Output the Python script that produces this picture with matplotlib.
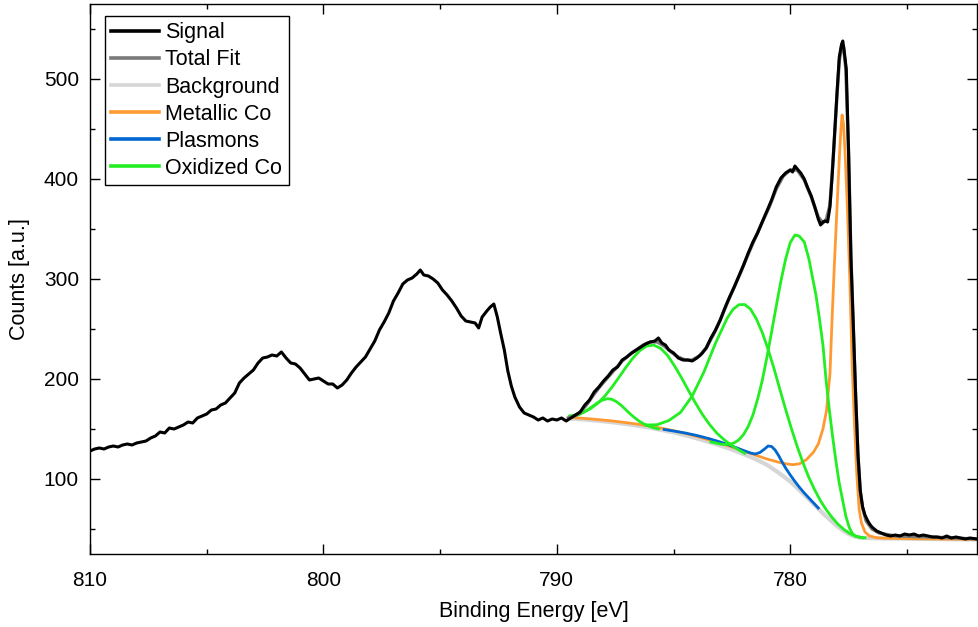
import matplotlib
matplotlib.use("Agg")
import matplotlib.pyplot as plt
from matplotlib.ticker import MultipleLocator
from matplotlib.lines import Line2D

plt.rcParams['font.family'] = ['Liberation Sans', 'DejaVu Sans']

# ---------------- data ----------------
sig_E = [810.00, 809.80, 809.60, 809.40, 809.20, 809.00, 808.80, 808.60, 808.40, 808.20,
         808.00, 807.80, 807.60, 807.40, 807.20, 807.00, 806.80, 806.60, 806.40, 806.20,
         806.00, 805.80, 805.60, 805.40, 805.20, 805.00, 804.80, 804.60, 804.40, 804.20,
         804.00, 803.80, 803.60, 803.40, 803.20, 803.00, 802.80, 802.60, 802.40, 802.20,
         802.00, 801.80, 801.60, 801.40, 801.20, 801.00, 800.80, 800.60, 800.40, 800.20,
         800.00, 799.80, 799.60, 799.40, 799.20, 799.00, 798.80, 798.60, 798.40, 798.20,
         798.00, 797.80, 797.60, 797.40, 797.20, 797.00, 796.80, 796.60, 796.40, 796.20,
         796.00, 795.85, 795.70, 795.50, 795.30, 795.10, 794.90, 794.70, 794.50, 794.30,
         794.10, 793.90, 793.70, 793.50, 793.35, 793.20, 793.00, 792.85, 792.70, 792.55,
         792.40, 792.25, 792.10, 791.95, 791.80, 791.60, 791.40, 791.20, 791.00, 790.80,
         790.60, 790.40, 790.20, 790.00, 789.80, 789.60, 789.40, 789.20, 789.00, 788.80,
         788.60, 788.40, 788.20, 788.00, 787.80, 787.60, 787.40, 787.20, 787.00, 786.80,
         786.60, 786.40, 786.20, 786.00, 785.80, 785.65, 785.50, 785.35, 785.20, 785.00,
         784.80, 784.60, 784.40, 784.20, 784.00, 783.80, 783.60, 783.40, 783.20, 783.00,
         782.80, 782.60, 782.40, 782.20, 782.00, 781.80, 781.60, 781.40, 781.20, 781.00,
         780.80, 780.60, 780.40, 780.20, 780.00, 779.90, 779.80, 779.70, 779.55, 779.40,
         779.25, 779.10, 778.95, 778.80, 778.70, 778.60, 778.50, 778.40, 778.30, 778.20,
         778.10, 778.00, 777.90, 777.80, 777.75, 777.70, 777.60, 777.50, 777.40, 777.30,
         777.20, 777.10, 777.00, 776.90, 776.80, 776.70, 776.60, 776.50, 776.30, 776.10,
         775.90, 775.70, 775.50, 775.30, 775.10, 774.90, 774.70, 774.50, 774.30, 774.10,
         773.90, 773.70, 773.50, 773.30, 773.10, 772.90, 772.70, 772.50, 772.30, 772.00]
sig_C = [128, 130, 131, 130, 132, 133, 132, 134, 135, 134,
         136, 137, 138, 141, 143, 147, 146, 151, 150, 152,
         154, 157, 156, 161, 163, 165, 169, 170, 174, 176,
         181, 186, 196, 201, 205, 209, 216, 221, 222, 224,
         223, 227, 221, 216, 215, 211, 205, 199, 200, 201,
         198, 195, 195, 191, 194, 199, 206, 212, 217, 222,
         230, 238, 249, 257, 266, 278, 286, 295, 299, 301,
         305, 309, 304, 303, 300, 296, 289, 284, 278, 271,
         263, 258, 257, 256, 251, 262, 268, 272, 275, 262,
         245, 229, 208, 193, 182, 172, 166, 164, 162, 159,
         161, 158, 160, 159, 161, 158, 161, 164, 167, 174,
         179, 187, 192, 198, 203, 209, 212, 219, 222, 226,
         229, 232, 235, 237, 238, 241, 236, 234, 229, 226,
         221, 219, 219, 218, 221, 225, 231, 241, 249, 259,
         271, 282, 292, 303, 314, 326, 337, 346, 357, 368,
         379, 392, 401, 406, 409, 407, 413, 410, 406, 400,
         391, 383, 372, 360, 354, 357, 358, 357, 372, 405,
         445, 485, 522, 535, 538, 530, 510, 425, 320, 255,
         185, 125, 88, 72, 64, 59, 55, 52, 48, 46,
         44, 43, 44, 43, 45, 44, 45, 43, 44, 43,
         42, 42, 41, 43, 41, 42, 41, 40, 41, 40]

fit_E = [789.5, 789.2, 789.0, 788.7, 788.4, 788.1, 787.8, 787.5, 787.2, 786.9,
         786.6, 786.3, 786.0, 785.7, 785.4, 785.1, 784.8, 784.5, 784.2, 783.9,
         783.6, 783.3, 783.0, 782.7, 782.4, 782.1, 781.8, 781.5, 781.2, 780.9,
         780.6, 780.3, 780.0, 779.7, 779.4, 779.1, 778.8, 778.6, 778.45, 778.3,
         778.15, 778.0, 777.9, 777.8, 777.72, 777.62, 777.5, 777.4, 777.3, 777.2,
         777.1, 777.0, 776.9, 776.75, 776.5, 776.2, 775.5, 774.0, 772.0]
fit_C = [161, 163.5, 166.5, 175, 185, 194, 202, 210, 218, 224,
         229, 234, 237, 237, 233, 227, 222, 219, 219, 223,
         231, 244, 259, 276, 292, 308, 325, 341, 357, 372,
         390, 403, 409, 409, 399, 382, 362, 356, 360, 374,
         425, 483, 518, 533, 532, 510, 425, 322, 252, 183,
         124, 88, 71, 58, 50, 46, 43, 42, 40]

bg_E = [789.5, 789.0, 788.5, 788.0, 787.5, 787.0, 786.5, 786.0, 785.5, 785.0,
        784.5, 784.0, 783.5, 783.0, 782.5, 782.0, 781.5, 781.0, 780.5, 780.0,
        779.5, 779.0, 778.5, 778.0, 777.75, 777.5, 777.25, 777.0, 776.5, 776.0,
        775.0, 774.0, 773.0, 772.0]
bg_C = [160.7, 159.8, 158.8, 157.7, 156.4, 154.9, 153.2, 151.2, 149.0, 146.5,
        143.7, 140.6, 137.2, 133.5, 129.4, 124.9, 120.0, 114.2, 106.3, 97.5,
        86.5, 75.0, 63.5, 53.0, 48.7, 45.0, 42.5, 41.3, 40.8, 40.6,
        40.3, 40.0, 39.7, 39.5]

met_E = [789.5, 789.0, 788.5, 788.0, 787.5, 787.0, 786.5, 786.0, 785.5, 785.0,
         784.5, 784.0, 783.5, 783.0, 782.5, 782.0, 781.5, 781.0, 780.5, 780.2,
         779.9, 779.6, 779.3, 779.0, 778.8, 778.6, 778.45, 778.3, 778.2, 778.1,
         778.0, 777.9, 777.83, 777.78, 777.72, 777.65, 777.55, 777.45, 777.35, 777.25,
         777.15, 777.05, 776.95, 776.8, 776.6, 776.3, 776.0, 775.0, 774.0, 773.0, 772.0]
met_C = [161.7, 160.9, 160.0, 158.9, 157.7, 156.3, 154.7, 152.8, 150.7, 148.3,
         145.6, 142.6, 139.3, 135.8, 132.0, 128.0, 124.0, 120.0, 116.8, 115.3,
         114.3, 115.2, 119.5, 127, 135, 150, 168, 205, 265, 320,
         370, 420, 450, 464, 455, 425, 370, 300, 215, 155,
         105, 70, 56, 47, 43, 41.3, 40.8, 40.4, 40.1, 39.8, 39.6]

pl_E = [785.4, 785.0, 784.5, 784.0, 783.5, 783.0, 782.5, 782.0, 781.7, 781.5,
        781.3, 781.1, 780.95, 780.8, 780.65, 780.5, 780.35, 780.2, 780.0, 779.8,
        779.6, 779.4, 779.2, 779.0, 778.8]
pl_C = [149.5, 148, 146, 143.5, 140.5, 137, 133, 128.5, 126, 125,
        126.5, 130, 133, 132.5, 129, 123.5, 117, 111, 104, 97.5,
        91.5, 86, 81, 76, 71]

ox1_E = [789.45, 789.25, 789.05, 788.85, 788.65, 788.45, 788.25, 788.05, 787.85, 787.75,
         787.65, 787.45, 787.25, 787.05, 786.85, 786.65, 786.45, 786.25, 786.05, 785.85, 785.65]
ox1_C = [162.0, 162.8, 164.4, 166.7, 169.6, 173.0, 176.3, 178.9, 180.2, 180.1,
         179.7, 177.4, 173.8, 169.4, 164.9, 161.0, 157.5, 154.8, 152.8, 151.2, 150.1]

ox2_E = [789.45, 789.15, 788.85, 788.55, 788.25, 787.95, 787.65, 787.35, 787.05, 786.75,
         786.45, 786.15, 785.85, 785.55, 785.25, 784.95, 784.65, 784.35, 784.05, 783.75,
         783.45, 783.15, 782.85, 782.55, 782.25, 781.95]
ox2_C = [163.1, 164.4, 166.8, 170.4, 175.7, 182.8, 191.5, 201.3, 211.4, 220.7,
         228.3, 233.0, 233.9, 230.6, 223.4, 212.8, 200.9, 188.0, 175.5, 164.1,
         154.3, 146.0, 139.6, 134.2, 129.7, 125.7]

ox3_E = [786.2, 785.7, 785.2, 784.7, 784.2, 783.7, 783.2, 782.7, 782.45, 782.2,
         781.95, 781.7, 781.45, 781.2, 780.95, 780.7, 780.45, 780.2, 779.95, 779.7,
         779.45, 779.2, 778.95, 778.7, 778.45, 778.2, 777.95, 777.7, 777.45, 777.2, 776.9]
ox3_C = [154.0, 154.3, 158.5, 166.6, 183.0, 207.0, 236.0, 261.0, 269.7, 274.3,
         274.5, 269.8, 260.0, 246.5, 229.7, 210.7, 190.0, 169.7, 150.4, 132.3,
         116.0, 101.4, 89.0, 78.0, 69.0, 61.3, 54.7, 49.5, 45.5, 42.8, 41.2]

ox4_E = [783.4, 783.2, 783.0, 782.8, 782.6, 782.4, 782.2, 782.0, 781.8, 781.6,
         781.4, 781.2, 781.0, 780.8, 780.6, 780.4, 780.2, 780.0, 779.8, 779.62,
         779.4, 779.2, 779.06, 778.9, 778.76, 778.6, 778.47, 778.33, 778.2, 778.05,
         777.91, 777.75, 777.62, 777.48, 777.34, 777.2, 777.05, 776.8]
ox4_C = [137.0, 136.0, 135.0, 134.5, 134.8, 136.2, 139.2, 144.5, 152.6, 164.0,
         179.7, 198.5, 221.8, 247.0, 273.0, 298.0, 319.8, 336.5, 344.0, 343.0,
         337.0, 320.0, 303.0, 284.0, 262.0, 234.0, 200.0, 170.0, 145.0, 119.0,
         97.0, 78.0, 63.0, 52.0, 45.5, 42.8, 41.8, 41.2]

# ---------------- figure ----------------
fig = plt.figure(figsize=(9.79, 6.27), dpi=100)
ax = fig.add_axes([90/979, 1-554/627, (977-90)/979, (554-4)/627])

c_bg = '#d6d6d6'
c_fit = '#7a7a7a'
c_met = '#ff9a33'
c_pl = '#0066d0'
c_ox = '#22ee22'

ax.plot(bg_E, bg_C, color=c_bg, lw=3.0, zorder=1)
ax.plot(met_E, met_C, color=c_met, lw=2.0, zorder=2)
ax.plot(pl_E, pl_C, color=c_pl, lw=2.0, zorder=3)
for e, c in [(ox1_E, ox1_C), (ox2_E, ox2_C), (ox3_E, ox3_C), (ox4_E, ox4_C)]:
    ax.plot(e, c, color=c_ox, lw=2.0, zorder=4)
ax.plot(fit_E, fit_C, color=c_fit, lw=2.4, zorder=5)
ax.plot(sig_E, sig_C, color='black', lw=2.2, zorder=6)

ax.set_xlim(810, 772)
ax.set_ylim(25, 575)
ax.xaxis.set_major_locator(MultipleLocator(10))
ax.xaxis.set_minor_locator(MultipleLocator(5))
ax.yaxis.set_major_locator(MultipleLocator(100))
ax.yaxis.set_minor_locator(MultipleLocator(50))
ax.tick_params(which='both', direction='in', top=True, right=True, width=1.0,
               labelsize=15, colors='black')
ax.tick_params(which='major', length=7.5)
ax.tick_params(which='minor', length=3.8)
ax.tick_params(axis='x', pad=12)
ax.tick_params(axis='y', pad=8)
for s in ax.spines.values():
    s.set_linewidth(1.0)

ax.set_xlabel('Binding Energy [eV]', fontsize=15.5, labelpad=8)
ax.set_ylabel('Counts [a.u.]', fontsize=15.5, labelpad=10)

handles = [Line2D([], [], color='black', lw=2.6),
           Line2D([], [], color=c_fit, lw=2.6),
           Line2D([], [], color=c_bg, lw=2.6),
           Line2D([], [], color=c_met, lw=2.6),
           Line2D([], [], color=c_pl, lw=2.6),
           Line2D([], [], color=c_ox, lw=2.6)]
labels = ['Signal', 'Total Fit', 'Background', 'Metallic Co', 'Plasmons', 'Oxidized Co']
leg = ax.legend(handles, labels, loc='upper left', bbox_to_anchor=(15/887, 1-12/550),
                borderaxespad=0, fontsize=15.5, frameon=True, fancybox=False,
                edgecolor='black', framealpha=1, handlelength=2.2, handletextpad=0.3,
                labelspacing=0.28, borderpad=0.3)
leg.get_frame().set_linewidth(1.0)

fig.savefig('out.png', dpi=100)
